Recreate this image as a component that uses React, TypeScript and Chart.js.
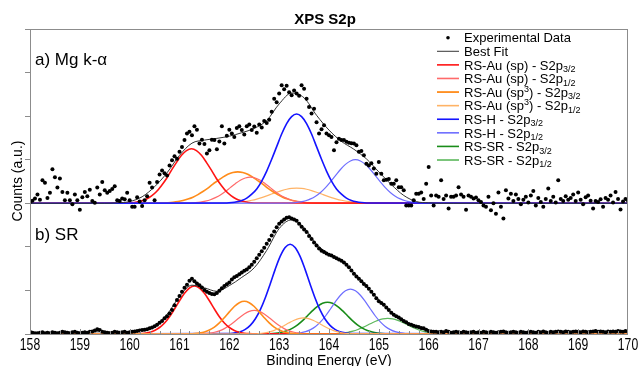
import React, { useEffect, useRef } from "react";
import { Chart, registerables } from "chart.js";

Chart.register(...registerables);

// ---- axes ----
const X_MIN = 158;
const X_MAX = 170;
const Y_MIN = 0;
const Y_MAX = 7;
const X_MINOR_STEP = 0.2;
const TOP_OFFSET = 3; // vertical offset of panel a)

// ---- sampling grids (energies, eV) ----
const EXP_START = 158;
const EXP_STEP = 0.05;
const FIT_START = 158;
const FIT_STEP = 0.25;
const COMP_STEP = 0.1;

// ---- panel a) Mg k-alpha : experimental data ----
const topExperimental = [
  0.03, 0.06, 0.11, 0.20, 0.08, 0.53, 0.47, 0.12, 0.24, 0.78, 0.60, 0.36, 0.57, 0.26, 0.07, 0.24, 0.07, -0.02, 0.20, 0.07,
  -0.15, 0.14, 0.26, 0.16, 0.31, 0.05, 0.01, 0.36, 0.20, 0.49, 0.30, 0.24, 0.28, 0.33, 0.39, 0.07, 0.05, 0.11, 0.09, 0.24,
  0.07, -0.08, -0.08, 0.14, 0.04, -0.06, 0.07, 0.16, 0.47, 0.36, 0.07, 0.49, 0.66, 0.75, 0.69, 0.64, 0.87, 0.99, 1.08, 1.02,
  1.18, 1.29, 1.45, 1.60, 1.64, 1.56, 1.77, 1.69, 1.37, 1.46, 1.36, 1.14, 1.22, 1.46, 1.45, 1.24, 1.42, 1.77, 1.37, 1.55,
  1.69, 1.60, 1.52, 1.73, 1.77, 1.68, 1.58, 1.77, 1.81, 1.68, 1.76, 1.62, 1.81, 1.74, 1.89, 1.84, 1.92, 2.10, 2.40, 2.32,
  2.52, 2.71, 2.62, 2.70, 2.55, 2.48, 2.59, 2.52, 2.47, 2.71, 2.63, 2.40, 2.21, 2.06, 2.17, 1.86, 1.60, 1.70, 1.79, 1.60,
  1.56, 1.52, 1.22, 1.40, 1.48, 1.45, 1.45, 1.41, 1.39, 1.38, 1.37, 1.33, 1.18, 1.20, 1.10, 0.91, 0.87, 0.92, 0.80, 0.68,
  0.95, 0.68, 0.53, 0.54, 0.56, 0.45, 0.45, 0.53, 0.37, 0.37, 0.30, -0.05, -0.05, -0.05, 0.07, 0.22, 0.22, 0.25, 0.10, 0.45,
  0.83, 0.18, -0.05, 0.18, 0.15, 0.53, 0.10, 0.18, -0.12, 0.15, 0.15, 0.18, 0.37, 0.20, 0.15, -0.15, 0.18, 0.15, 0.11, 0.13,
  0.07, 0.03, -0.05, -0.08, 0.15, -0.16, 0.00, -0.24, 0.25, -0.08, -0.35, 0.30, 0.11, 0.22, 0.05, 0.20, 0.10, -0.02, 0.08, 0.15,
  0.02, 0.18, 0.28, -0.05, 0.12, 0.03, -0.08, 0.10, 0.34, 0.05, 0.15, 0.02, 0.53, 0.10, 0.05, 0.16, 0.08, 0.12, 0.20, 0.05,
  0.25, 0.08, -0.02, 0.14, 0.18, 0.06, -0.12, 0.05, 0.03, 0.09, -0.08, 0.12, 0.08, 0.18, 0.02, 0.26, 0.10, -0.14, 0.04, 0.10,
  0.06,
];

const topBestFit = [
  0, 0, 0, 0, 0, 0, 0, 0.01,
  0.04, 0.15, 0.38, 0.70, 1.10, 1.38, 1.45, 1.49, 1.54, 1.62, 1.72, 1.90,
  2.28, 2.53, 2.42, 2.02, 1.68, 1.42, 1.24, 1.02, 0.72, 0.43, 0.18, 0.04,
  0.01, 0, 0, 0, 0, 0, 0, 0, 0, 0, 0, 0, 0, 0, 0, 0, 0,
];

// ---- panel a) components (start energy + values every COMP_STEP) ----
const topAuSp32 = { start: 159.94, values: [0.006, 0.014, 0.03, 0.055, 0.10, 0.17, 0.27, 0.41, 0.57, 0.76, 0.94, 1.10, 1.21, 1.25, 1.21, 1.10, 0.94, 0.76, 0.57, 0.41, 0.27, 0.17, 0.10, 0.055, 0.03, 0.014, 0.006] };
const topAuSp12 = { start: 161.12, values: [0.003, 0.007, 0.014, 0.026, 0.048, 0.08, 0.13, 0.19, 0.27, 0.36, 0.45, 0.53, 0.58, 0.60, 0.58, 0.53, 0.45, 0.36, 0.27, 0.19, 0.13, 0.08, 0.048, 0.026, 0.014, 0.007, 0.003] };
const topAuSp3_32 = { start: 160.57, values: [0.004, 0.008, 0.014, 0.024, 0.04, 0.064, 0.097, 0.14, 0.20, 0.27, 0.35, 0.44, 0.52, 0.60, 0.665, 0.706, 0.72, 0.706, 0.665, 0.60, 0.52, 0.44, 0.35, 0.27, 0.20, 0.14, 0.097, 0.064, 0.04, 0.024, 0.014, 0.008, 0.004] };
const topAuSp3_12 = { start: 161.75, values: [0.002, 0.004, 0.007, 0.012, 0.02, 0.031, 0.047, 0.069, 0.097, 0.131, 0.17, 0.212, 0.254, 0.292, 0.323, 0.343, 0.35, 0.343, 0.323, 0.292, 0.254, 0.212, 0.17, 0.131, 0.097, 0.069, 0.047, 0.031, 0.02, 0.012, 0.007, 0.004, 0.002] };
const topH32 = { start: 161.95, values: [0.008, 0.017, 0.035, 0.066, 0.12, 0.21, 0.33, 0.51, 0.74, 1.01, 1.30, 1.59, 1.83, 1.99, 2.05, 1.99, 1.83, 1.59, 1.30, 1.01, 0.74, 0.51, 0.33, 0.21, 0.12, 0.066, 0.035, 0.017, 0.008] };
const topH12 = { start: 163.13, values: [0.004, 0.008, 0.017, 0.032, 0.059, 0.101, 0.163, 0.249, 0.36, 0.492, 0.635, 0.775, 0.893, 0.972, 1.0, 0.972, 0.893, 0.775, 0.635, 0.492, 0.36, 0.249, 0.163, 0.101, 0.059, 0.032, 0.017, 0.008, 0.004] };

// ---- panel b) SR : experimental data ----
const bottomExperimental = [
  0.05, 0.03, 0.02, 0.02, 0.03, 0.04, 0.02, 0.03, 0.02, 0.04, 0.03, 0.02, 0.03, 0.05, 0.04, 0.03, 0.02, 0.04, 0.05, 0.03,
  0.02, 0.03, 0.04, 0.03, 0.05, 0.06, 0.08, 0.11, 0.09, 0.05, 0.04, 0.03, 0.02, 0.03, 0.05, 0.04, 0.03, 0.04, 0.05, 0.03,
  0.04, 0.05, 0.06, 0.07, 0.08, 0.09, 0.10, 0.11, 0.13, 0.15, 0.18, 0.21, 0.26, 0.30, 0.36, 0.41, 0.47, 0.55, 0.66, 0.78,
  0.87, 0.97, 1.06, 1.13, 1.22, 1.27, 1.21, 1.16, 1.12, 1.07, 1.01, 0.97, 0.94, 0.92, 0.91, 0.94, 0.99, 1.05, 1.10, 1.14,
  1.18, 1.25, 1.30, 1.33, 1.37, 1.41, 1.45, 1.48, 1.53, 1.59, 1.66, 1.74, 1.82, 1.90, 1.98, 2.07, 2.16, 2.26, 2.35, 2.45,
  2.53, 2.58, 2.63, 2.67, 2.68, 2.65, 2.63, 2.60, 2.53, 2.46, 2.40, 2.34, 2.25, 2.18, 2.10, 2.03, 1.96, 1.91, 1.88, 1.85,
  1.82, 1.80, 1.77, 1.74, 1.71, 1.68, 1.64, 1.59, 1.53, 1.46, 1.38, 1.32, 1.27, 1.21, 1.15, 1.10, 1.04, 0.97, 0.90, 0.82,
  0.75, 0.71, 0.67, 0.61, 0.55, 0.49, 0.44, 0.41, 0.38, 0.34, 0.30, 0.27, 0.23, 0.21, 0.19, 0.17, 0.16, 0.14, 0.13, 0.10,
  0.07, 0.06, 0.05, 0.05, 0.04, 0.05, 0.04, 0.07, 0.05, 0.03, 0.04, 0.05, 0.04, 0.03, 0.05, 0.04, 0.03, 0.04, 0.05, 0.03,
  0.04, 0.03, 0.05, 0.04, 0.03, 0.05, 0.04, 0.03, 0.04, 0.05, 0.06, 0.04, 0.03, 0.04, 0.05, 0.04, 0.03, 0.05, 0.04, 0.03,
  0.04, 0.05, 0.04, 0.03, 0.05, 0.04, 0.06, 0.04, 0.03, 0.05, 0.04, 0.05, 0.06, 0.05, 0.04, 0.06, 0.05, 0.04, 0.05, 0.06,
  0.05, 0.04, 0.06, 0.05, 0.04, 0.05, 0.06, 0.07, 0.05, 0.06, 0.05, 0.04, 0.06, 0.05, 0.06, 0.05, 0.07, 0.06, 0.05, 0.07,
  0.06,
];

const bottomBestFit = [
  0.03, 0.03, 0.03, 0.04, 0.04, 0.05, 0.05, 0.04,
  0.04, 0.08, 0.18, 0.45, 0.86, 1.12, 1.06, 0.98, 1.11, 1.30, 1.52, 1.92,
  2.42, 2.62, 2.44, 2.06, 1.84, 1.68, 1.41, 1.10, 0.78, 0.50, 0.29, 0.16,
  0.07, 0.05, 0.04, 0.04, 0.04, 0.04, 0.04, 0.04, 0.04, 0.04, 0.04, 0.04, 0.04, 0.04, 0.04, 0.04, 0.04,
];

// ---- panel b) components ----
const botAuSp32 = { start: 160.10, values: [0.003, 0.008, 0.019, 0.04, 0.081, 0.149, 0.253, 0.396, 0.573, 0.762, 0.934, 1.056, 1.10, 1.056, 0.934, 0.762, 0.573, 0.396, 0.253, 0.149, 0.081, 0.04, 0.019, 0.008, 0.003] };
const botAuSp12 = { start: 161.30, values: [0.0015, 0.004, 0.009, 0.02, 0.04, 0.073, 0.124, 0.195, 0.281, 0.374, 0.459, 0.518, 0.54, 0.518, 0.459, 0.374, 0.281, 0.195, 0.124, 0.073, 0.04, 0.02, 0.009, 0.004, 0.0015] };
const botAuSp3_32 = { start: 161.10, values: [0.0015, 0.004, 0.01, 0.023, 0.047, 0.09, 0.158, 0.254, 0.375, 0.508, 0.631, 0.718, 0.75, 0.718, 0.631, 0.508, 0.375, 0.254, 0.158, 0.09, 0.047, 0.023, 0.01, 0.004, 0.0015] };
const botAuSp3_12 = { start: 162.29, values: [0.001, 0.002, 0.005, 0.011, 0.023, 0.044, 0.078, 0.125, 0.185, 0.251, 0.311, 0.354, 0.37, 0.354, 0.311, 0.251, 0.185, 0.125, 0.078, 0.044, 0.023, 0.011, 0.005, 0.002, 0.001] };
const botH32 = { start: 162.02, values: [0.011, 0.025, 0.053, 0.107, 0.199, 0.344, 0.553, 0.827, 1.148, 1.483, 1.78, 1.986, 2.06, 1.986, 1.78, 1.483, 1.148, 0.827, 0.553, 0.344, 0.199, 0.107, 0.053, 0.025, 0.011] };
const botH12 = { start: 163.23, values: [0.005, 0.012, 0.027, 0.053, 0.1, 0.172, 0.277, 0.413, 0.574, 0.742, 0.89, 0.993, 1.03, 0.993, 0.89, 0.742, 0.574, 0.413, 0.277, 0.172, 0.1, 0.053, 0.027, 0.012, 0.005] };
const botSR32 = { start: 162.77, values: [0.005, 0.011, 0.023, 0.044, 0.08, 0.134, 0.21, 0.307, 0.42, 0.535, 0.636, 0.705, 0.73, 0.705, 0.636, 0.535, 0.42, 0.307, 0.21, 0.134, 0.08, 0.044, 0.023, 0.011, 0.005] };
const botSR12 = { start: 163.98, values: [0.002, 0.005, 0.011, 0.022, 0.039, 0.066, 0.104, 0.151, 0.207, 0.264, 0.313, 0.348, 0.36, 0.348, 0.313, 0.264, 0.207, 0.151, 0.104, 0.066, 0.039, 0.022, 0.011, 0.005, 0.002] };

// ---- text ----
const TITLE = "XPS S2p";
const X_TITLE = "Binding Energy (eV)";
const Y_TITLE = "Counts (a.u.)";
const PANEL_A = "a) Mg k-α";
const PANEL_B = "b) SR";

// ---- styles ----
const FONT = '"Liberation Sans", Arial, Helvetica, sans-serif';
const FRAME = "#8c8c8c";
const C_BEST = "#333333";
const C_RED = "#ff1414";
const C_RED2 = "#ff6a6a";
const C_ORANGE = "#ff8c1a";
const C_ORANGE2 = "#ffb366";
const C_BLUE = "#1414ff";
const C_BLUE2 = "#6e6eff";
const C_GREEN = "#198c19";
const C_GREEN2 = "#5cb85c";

type Seg = [string, "n" | "sub" | "sup"];
const LEGEND: { kind: "dot" | "line"; color: string; width: number; parts: Seg[] }[] = [
  { kind: "dot", color: "#000", width: 0, parts: [["Experimental Data", "n"]] },
  { kind: "line", color: C_BEST, width: 1, parts: [["Best Fit", "n"]] },
  { kind: "line", color: C_RED, width: 1.6, parts: [["RS-Au (sp) - S2p", "n"], ["3/2", "sub"]] },
  { kind: "line", color: C_RED2, width: 1.6, parts: [["RS-Au (sp) - S2p", "n"], ["1/2", "sub"]] },
  { kind: "line", color: C_ORANGE, width: 1.8, parts: [["RS-Au (sp", "n"], ["3", "sup"], [") - S2p", "n"], ["3/2", "sub"]] },
  { kind: "line", color: C_ORANGE2, width: 1.6, parts: [["RS-Au (sp", "n"], ["3", "sup"], [") - S2p", "n"], ["1/2", "sub"]] },
  { kind: "line", color: C_BLUE, width: 1.6, parts: [["RS-H - S2p", "n"], ["3/2", "sub"]] },
  { kind: "line", color: C_BLUE2, width: 1.6, parts: [["RS-H - S2p", "n"], ["1/2", "sub"]] },
  { kind: "line", color: C_GREEN, width: 1.6, parts: [["RS-SR - S2p", "n"], ["3/2", "sub"]] },
  { kind: "line", color: C_GREEN2, width: 1.6, parts: [["RS-SR - S2p", "n"], ["1/2", "sub"]] },
];

function gridPoints(start: number, step: number, values: number[], offset: number) {
  return values.map((v, i) => ({ x: start + i * step, y: v + offset }));
}

function componentPoints(c: { start: number; values: number[] }, offset: number) {
  return [
    { x: X_MIN, y: offset },
    ...gridPoints(c.start, COMP_STEP, c.values, offset),
    { x: X_MAX, y: offset },
  ];
}

function compDataset(c: { start: number; values: number[] }, offset: number, color: string, width: number, order: number) {
  return {
    data: componentPoints(c, offset),
    borderColor: color,
    borderWidth: width,
    pointRadius: 0,
    fill: false,
    cubicInterpolationMode: "monotone" as const,
    order,
  };
}

const decorPlugin = {
  id: "decor",
  afterDatasetsDraw(chart: any) {
    const { ctx, chartArea } = chart;
    const { left, top, right, bottom } = chartArea;
    const xs = chart.scales.x;
    ctx.save();
    // frame
    ctx.strokeStyle = FRAME;
    ctx.lineWidth = 1;
    ctx.strokeRect(left + 0.5, top + 0.5, right - left - 1, bottom - top);

    // minor ticks on the bottom axis (inward)
    ctx.beginPath();
    const nMinor = Math.round((X_MAX - X_MIN) / X_MINOR_STEP);
    for (let i = 1; i < nMinor; i++) {
      const v = X_MIN + i * X_MINOR_STEP;
      const px = Math.round(xs.getPixelForValue(v)) + 0.5;
      const len = i % 5 === 0 ? 5 : 3;
      ctx.moveTo(px, bottom);
      ctx.lineTo(px, bottom - len);
    }
    ctx.stroke();

    ctx.fillStyle = "#000";
    ctx.textBaseline = "alphabetic";

    // x tick labels (condensed, from the x scale's ticks)
    ctx.font = `16px ${FONT}`;
    ctx.textAlign = "center";
    xs.ticks.forEach((t: any) => {
      const px = xs.getPixelForValue(t.value);
      ctx.save();
      ctx.translate(px, 349.5);
      ctx.scale(0.76, 1);
      ctx.fillText(String(t.value), 0, 0);
      ctx.restore();
    });

    // title
    ctx.font = `bold 15px ${FONT}`;
    ctx.fillText(TITLE, 325, 23.5);
    // x title
    ctx.font = `14px ${FONT}`;
    ctx.fillText(X_TITLE, 329, 364.5);
    // y title
    ctx.save();
    ctx.translate(22, 181);
    ctx.rotate(-Math.PI / 2);
    ctx.fillText(Y_TITLE, 0, 0);
    ctx.restore();
    // panel labels
    ctx.textAlign = "left";
    ctx.font = `17px ${FONT}`;
    ctx.fillText(PANEL_A, 35, 65);
    ctx.fillText(PANEL_B, 35, 239.5);

    // legend
    const x0 = 437, x1 = 459, tx = 464, y0 = 37.7, dy = 13.59;
    LEGEND.forEach((item, i) => {
      const yc = y0 + i * dy;
      if (item.kind === "dot") {
        ctx.fillStyle = "#000";
        ctx.beginPath();
        ctx.arc(448, yc, 1.8, 0, Math.PI * 2);
        ctx.fill();
      } else {
        ctx.strokeStyle = item.color;
        ctx.lineWidth = item.width;
        ctx.beginPath();
        ctx.moveTo(x0, yc);
        ctx.lineTo(x1, yc);
        ctx.stroke();
      }
      let x = tx;
      const base = yc + 4.7;
      ctx.fillStyle = "#000";
      item.parts.forEach(([t, m]) => {
        if (m === "n") {
          ctx.font = `13px ${FONT}`;
          ctx.fillText(t, x, base);
        } else if (m === "sub") {
          ctx.font = `9px ${FONT}`;
          ctx.fillText(t, x, base + 2.5);
        } else {
          ctx.font = `9px ${FONT}`;
          ctx.fillText(t, x, base - 5);
        }
        x += ctx.measureText(t).width;
      });
    });
    ctx.restore();
  },
};

export default function App() {
  const ref = useRef<HTMLCanvasElement>(null);
  useEffect(() => {
    const canvas = ref.current;
    if (!canvas) return;
    const datasets: any[] = [
      {
        data: gridPoints(EXP_START, EXP_STEP, topExperimental, TOP_OFFSET),
        showLine: false,
        pointRadius: 2,
        pointBackgroundColor: "#000",
        pointBorderWidth: 0,
        borderColor: "#000",
        order: 0,
      },
      {
        data: gridPoints(EXP_START, EXP_STEP, bottomExperimental, 0),
        showLine: false,
        pointRadius: 2,
        pointBackgroundColor: "#000",
        pointBorderWidth: 0,
        borderColor: "#000",
        order: 0,
      },
      {
        data: gridPoints(FIT_START, FIT_STEP, topBestFit, TOP_OFFSET),
        borderColor: C_BEST, borderWidth: 1, pointRadius: 0, cubicInterpolationMode: "monotone", order: 1,
      },
      {
        data: gridPoints(FIT_START, FIT_STEP, bottomBestFit, 0),
        borderColor: C_BEST, borderWidth: 1, pointRadius: 0, cubicInterpolationMode: "monotone", order: 1,
      },
      // panel a
      compDataset(topH32, TOP_OFFSET, C_BLUE, 1.6, 2),
      compDataset(topH12, TOP_OFFSET, C_BLUE2, 1.2, 3),
      compDataset(topAuSp32, TOP_OFFSET, C_RED, 1.6, 4),
      compDataset(topAuSp12, TOP_OFFSET, C_RED2, 1.2, 5),
      compDataset(topAuSp3_32, TOP_OFFSET, C_ORANGE, 1.6, 6),
      compDataset(topAuSp3_12, TOP_OFFSET, C_ORANGE2, 1.2, 7),
      // panel b
      compDataset(botAuSp3_12, 0, C_ORANGE2, 1.2, 2),
      compDataset(botAuSp3_32, 0, C_ORANGE, 1.6, 3),
      compDataset(botAuSp32, 0, C_RED, 1.6, 4),
      compDataset(botAuSp12, 0, C_RED2, 1.2, 5),
      compDataset(botH32, 0, C_BLUE, 1.6, 6),
      compDataset(botH12, 0, C_BLUE2, 1.2, 7),
      compDataset(botSR32, 0, C_GREEN, 1.6, 8),
      compDataset(botSR12, 0, C_GREEN2, 1.2, 9),
    ];
    const chart = new Chart(canvas, {
      type: "line",
      data: { datasets },
      options: {
        responsive: false,
        animation: false,
        devicePixelRatio: 1,
        layout: { padding: { top: 29, right: 11, left: 0, bottom: 0 } },
        plugins: { legend: { display: false }, title: { display: false }, tooltip: { enabled: false } },
        scales: {
          x: {
            type: "linear",
            min: X_MIN,
            max: X_MAX,
            ticks: { display: false, stepSize: 1, autoSkip: false },
            grid: { display: false, drawTicks: false },
            border: { display: false },
            afterFit: (s: any) => { s.height = 32; },
          },
          y: {
            min: Y_MIN,
            max: Y_MAX,
            ticks: { display: false, stepSize: 1 },
            grid: { display: true, drawOnChartArea: false, drawTicks: true, tickLength: 5, color: FRAME },
            border: { display: false },
            afterFit: (s: any) => { s.width = 30; },
          },
        },
      } as any,
      plugins: [decorPlugin],
    });
    return () => chart.destroy();
  }, []);
  return (
    <div style={{ position: "fixed", left: 0, top: 0, width: 639, height: 366, background: "#fff" }}>
      <canvas ref={ref} width={639} height={366} style={{ display: "block", width: 639, height: 366 }} />
    </div>
  );
}
